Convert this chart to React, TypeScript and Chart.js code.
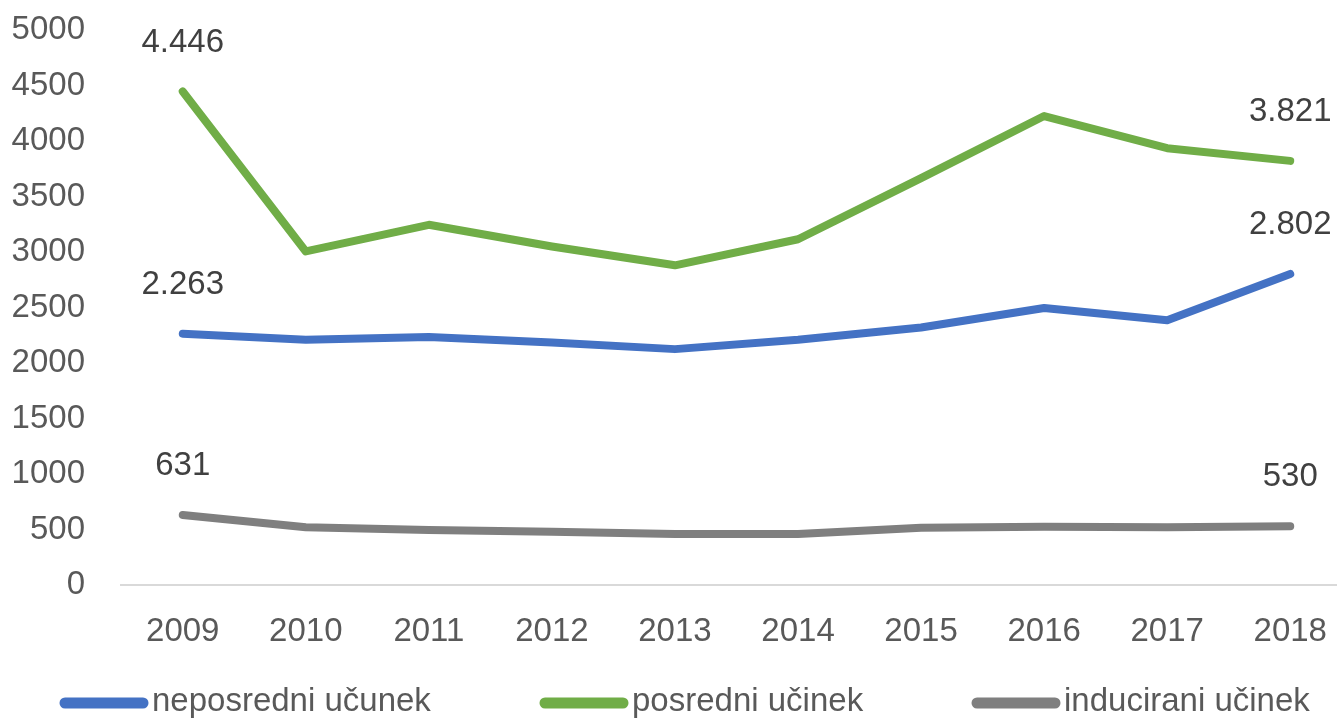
import React, { useEffect, useRef } from "react";
import { Chart, registerables } from "chart.js";

Chart.register(...registerables);

const years = [2009, 2010, 2011, 2012, 2013, 2014, 2015, 2016, 2017, 2018];
const neposredni = [2263, 2210, 2235, 2185, 2125, 2210, 2320, 2495, 2385, 2802];
const posredni = [4446, 3005, 3245, 3050, 2880, 3115, 3665, 4225, 3935, 3821];
const inducirani = [631, 520, 495, 480, 460, 460, 515, 525, 520, 530];
const seriesNames = ["neposredni učunek", "posredni učinek", "inducirani učinek"];
const seriesColors = ["#4472C4", "#70AD47", "#7F7F7F"];
const yTicks = [0, 500, 1000, 1500, 2000, 2500, 3000, 3500, 4000, 4500, 5000];

const FONT = "'Liberation Sans', Arial, sans-serif";
const FSIZE = 33;

const formatLabel = (v: number) =>
  v >= 1000 ? `${Math.floor(v / 1000)}.${String(v % 1000).padStart(3, "0")}` : String(v);

const endLabels = {
  id: "endLabels",
  afterDatasetsDraw(chart: any) {
    const ctx = chart.ctx;
    ctx.save();
    ctx.font = `${FSIZE}px ${FONT}`;
    ctx.fillStyle = "#404040";
    ctx.textAlign = "center";
    ctx.textBaseline = "middle";
    chart.data.datasets.forEach((ds: any, i: number) => {
      const meta = chart.getDatasetMeta(i);
      const n = ds.data.length;
      [0, n - 1].forEach((idx) => {
        const pt = meta.data[idx];
        const v = ds.data[idx].y;
        ctx.fillText(formatLabel(v), pt.x, pt.y - 49);
      });
    });
    ctx.restore();
  },
};

const legendStarts = [60, 540, 972];
const customLegend = {
  id: "customLegend",
  afterDraw(chart: any) {
    const ctx = chart.ctx;
    ctx.save();
    const y = 703;
    seriesNames.forEach((name, i) => {
      const x = legendStarts[i];
      ctx.strokeStyle = seriesColors[i];
      ctx.lineWidth = 11;
      ctx.lineCap = "round";
      ctx.beginPath();
      ctx.moveTo(x + 5, y);
      ctx.lineTo(x + 83, y);
      ctx.stroke();
      ctx.font = `${FSIZE}px ${FONT}`;
      ctx.fillStyle = "#595959";
      ctx.textAlign = "left";
      ctx.textBaseline = "middle";
      ctx.fillText(name, x + 92, y - 1);
    });
    ctx.restore();
  },
};

export default function App() {
  const ref = useRef<HTMLCanvasElement | null>(null);
  useEffect(() => {
    if (!ref.current) return;
    const mk = (vals: number[]) => years.map((yr, i) => ({ x: yr, y: vals[i] }));
    const chart = new Chart(ref.current, {
      type: "line",
      data: {
        datasets: [neposredni, posredni, inducirani].map((vals, i) => ({
          label: seriesNames[i],
          data: mk(vals),
          borderColor: seriesColors[i],
          backgroundColor: seriesColors[i],
          borderWidth: 8,
          pointRadius: 0,
          tension: 0,
          borderCapStyle: "round" as const,
          borderJoinStyle: "round" as const,
          fill: false,
        })),
      },
      options: {
        animation: false,
        responsive: true,
        maintainAspectRatio: false,
        layout: { padding: { top: 30, left: 0, right: 0, bottom: 0 } },
        plugins: { legend: { display: false }, tooltip: { enabled: false } },
        scales: {
          x: {
            type: "linear",
            bounds: "data",
            min: 2008.49,
            max: 2018.38,
            afterDataLimits: (s: any) => {
              s.min = 2008.49;
              s.max = 2018.38;
            },
            afterFit: (s: any) => {
              s.height = 134;
              s.paddingLeft = 0;
              s.paddingRight = 0;
            },
            afterBuildTicks: (s: any) => {
              s.ticks = years.map((v) => ({ value: v }));
            },
            ticks: {
              callback: (v: any) => String(v),
              font: { family: FONT, size: FSIZE },
              color: "#595959",
              padding: 27,
              maxRotation: 0,
              autoSkip: false,
            },
            grid: { display: false, drawTicks: false },
            border: { display: false },
          },
          y: {
            min: 0,
            max: 5000,
            afterFit: (s: any) => {
              s.width = 120;
              s.paddingTop = 0;
              s.paddingBottom = 0;
            },
            afterBuildTicks: (s: any) => {
              s.ticks = yTicks.map((v) => ({ value: v }));
            },
            ticks: {
              font: { family: FONT, size: FSIZE },
              color: "#595959",
              padding: 35,
              callback: (v: any) => String(v),
            },
            grid: {
              drawTicks: false,
              color: (c: any) => (c.tick && c.tick.value === 0 ? "#D9D9D9" : "rgba(0,0,0,0)"),
              lineWidth: 2,
            },
            border: { display: false },
          },
        },
      },
      plugins: [endLabels, customLegend],
    });
    return () => chart.destroy();
  }, []);
  return (
    <div style={{ position: "fixed", left: 0, top: 0, width: 1337, height: 719, background: "#fff" }}>
      <canvas ref={ref} />
    </div>
  );
}
